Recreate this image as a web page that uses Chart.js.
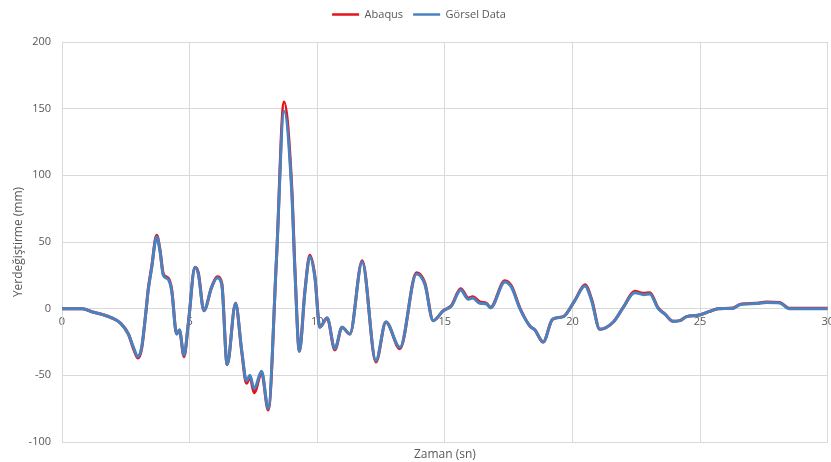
<!DOCTYPE html>
<html>
<head>
<meta charset="utf-8">
<script src="https://cdn.jsdelivr.net/npm/chart.js@4.4.1/dist/chart.umd.min.js"></script>
<style>
  html, body { margin: 0; padding: 0; background: #fff; overflow: hidden; }
  #wrap { width: 841px; height: 462px; }
</style>
</head>
<body>
<div id="wrap"><canvas id="chart"></canvas></div>
<script>
// Time values (s)
var zaman = [0, 0.8, 1.2, 1.6, 1.9, 2.3, 2.6, 2.8, 2.97, 3.12, 3.29, 3.38, 3.51, 3.71, 3.84, 3.97,
    4.16, 4.3, 4.49, 4.6, 4.78, 4.95, 5.21, 5.34, 5.56, 5.86, 6.08, 6.26, 6.47, 6.8, 7.04, 7.23,
    7.36, 7.53, 7.82, 8.08, 8.4, 8.7, 9.0, 9.13, 9.3, 9.52, 9.71, 9.91, 10.1, 10.39, 10.69, 10.97,
    11.28, 11.76, 12.3, 12.69, 13.24, 13.89, 14.22, 14.54, 14.94, 15.26, 15.62, 15.92, 16.09, 16.37,
    16.63, 16.79, 17.35, 17.61, 17.94, 18.33, 18.53, 18.85, 19.22, 19.64, 20.09, 20.49, 20.75, 21.07,
    21.6, 21.99, 22.44, 22.8, 23.03, 23.36, 23.62, 23.94, 24.2, 24.47, 24.92, 25.38, 25.7, 26.29,
    26.56, 27.2, 27.6, 28.12, 28.5, 30];

// Displacement (mm) - Abaqus
var abaqus = [0, 0, -2.5, -4.5, -6.5, -11, -19, -30, -37, -30, -2, 15, 31, 55, 44, 26,
    23, 14, -19, -16, -36, -11, 31, 27, -1.5, 16, 24, 19, -42, 4, -32, -56,
    -51, -63, -48, -76, 36, 155, 92, 28, -32, 14, 40, 24, -14, -7, -31, -14,
    -19, 36, -40, -10, -30, 27, 19, -9, -1.5, 2.5, 15, 8, 9, 5,
    4, 1, 21, 17, 0.5, -13, -16, -25, -8, -6, 6, 18, 7, -15.5,
    -10, 1, 13, 11.5, 12, 0.5, -4, -9.5, -9, -6, -5, -2, 0, 0.5,
    3.2, 4, 5, 4.6, 0.3, 0.3];

// Displacement (mm) - Görsel Data
var gorsel = [0, 0, -2.5, -4.5, -6.5, -11, -19, -29, -36, -29, -2, 14, 30, 54, 43, 25,
    22, 13, -19, -16, -35, -11, 31, 26, -1.5, 16, 23, 18, -42, 4, -31, -54,
    -50, -60, -47, -75, 36, 148, 88, 26, -32, 13, 39, 23, -14, -7, -30, -14,
    -19, 35, -39, -10, -29, 26, 18, -9, -1.5, 2, 14, 7, 8, 4,
    3.5, 0.5, 20, 16, 0, -13, -16, -25, -8, -6, 6, 17, 6, -15.5,
    -10, 1, 12, 10.5, 11, 0, -4, -9.5, -9, -6, -5, -2, 0, 0.2,
    3, 3.8, 4.6, 4.3, 0, 0];

var yTicks = [-100, -50, 0, 50, 100, 150, 200];
var xTicks = [0, 5, 10, 15, 20, 25, 30];

var labelColor = '#595959';
var gridColor = '#d9d9d9';
var baseFont = { family: 'Open Sans', size: 11 };

function toPoints(xs, ys) {
    var pts = [];
    for (var i = 0; i < xs.length; i++)
        pts.push({ x: xs[i], y: ys[i] });
    return pts;
}

// Adds some space under the legend without moving it
var legendGap = {
    id: 'legendGap',
    beforeInit: function (chart) {
        var origFit = chart.legend.fit;
        chart.legend.fit = function () {
            origFit.bind(chart.legend)();
            this.height += 12;
        };
    }
};

var ctx = document.getElementById('chart');

new Chart(ctx, {
    type: 'line',
    data: {
        datasets: [{
            label: 'Abaqus',
            data: toPoints(zaman, abaqus),
            borderColor: '#e3141c',
            backgroundColor: '#e3141c',
            borderWidth: 3,
            pointRadius: 0,
            cubicInterpolationMode: 'monotone',
            order: 1
        }, {
            label: 'Görsel Data',
            data: toPoints(zaman, gorsel),
            borderColor: '#4a82c0',
            backgroundColor: '#4a82c0',
            borderWidth: 3,
            pointRadius: 0,
            cubicInterpolationMode: 'monotone',
            order: 0
        }]
    },
    plugins: [legendGap],
    options: {
        responsive: true,
        maintainAspectRatio: false,
        animation: false,
        layout: { padding: { top: -1, right: 3, bottom: 0, left: 0 } },
        plugins: {
            tooltip: { enabled: false },
            legend: {
                position: 'top',
                labels: {
                    boxWidth: 27,
                    boxHeight: 2.5,
                    padding: 10,
                    color: labelColor,
                    font: baseFont,
                    sort: function (a, b) { return a.datasetIndex - b.datasetIndex; },
                    generateLabels: function (chart) {
                        var items = Chart.defaults.plugins.legend.labels.generateLabels(chart);
                        items.forEach(function (it) { it.lineWidth = 0; });
                        return items;
                    }
                }
            }
        },
        scales: {
            x: {
                type: 'linear',
                min: 0,
                max: 30,
                position: { y: 0 },
                afterBuildTicks: function (scale) {
                    scale.ticks = xTicks.map(function (v) { return { value: v }; });
                },
                grid: { color: gridColor, drawTicks: false },
                border: { color: gridColor },
                ticks: { color: labelColor, font: baseFont, padding: 7, maxRotation: 0 }
            },
            x2: {
                type: 'linear',
                position: 'bottom',
                display: true,
                afterFit: function (scale) { scale.height = 20; },
                grid: { display: false },
                border: { display: false },
                ticks: { display: false },
                title: {
                    display: true,
                    text: 'Zaman (sn)',
                    color: labelColor,
                    font: { family: 'Open Sans', size: 12 },
                    padding: { top: 0, bottom: 0 }
                }
            },
            y: {
                type: 'linear',
                min: -100,
                max: 200,
                afterBuildTicks: function (scale) {
                    scale.ticks = yTicks.map(function (v) { return { value: v }; });
                },
                afterFit: function (scale) { scale.width = 62; },
                grid: { color: gridColor, drawTicks: false },
                border: { color: gridColor },
                ticks: { color: labelColor, font: baseFont, padding: 11 },
                title: {
                    display: true,
                    text: 'Yerdeğiştirme (mm)',
                    color: labelColor,
                    font: { family: 'Open Sans', size: 12 },
                    padding: { top: 11, bottom: 0 }
                }
            }
        }
    }
});
</script>
</body>
</html>
